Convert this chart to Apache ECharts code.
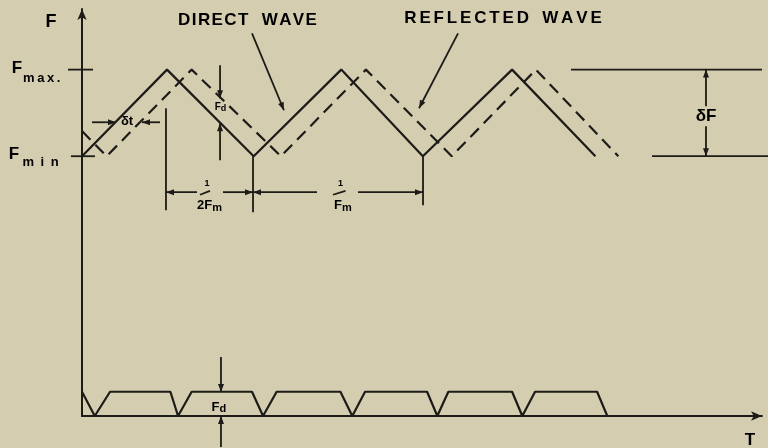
<!DOCTYPE html>
<html><head><meta charset="utf-8">
<script src="https://cdn.jsdelivr.net/npm/echarts@6/dist/echarts.min.js"></script>
<style>html,body{margin:0;padding:0;background:#d4cdb0}#c{width:768px;height:448px}</style>
</head><body><div id="c"></div>
<script>
// Direct (transmitted) wave: time vertices (half-periods) and frequency levels
const directT = [0, 1.0, 2.02, 3.05, 4.01, 5.06, 6.04];
const directF = [3, 4, 3, 4, 3, 4, 3];
// Reflected wave (delayed by δt)
const reflectedT = [0, 0.29, 1.29, 2.34, 3.34, 4.35, 5.34, 6.31];
const reflectedF = [3.29, 3, 4, 3, 4, 3, 4, 3];
// Beat frequency Fd versus time
const beatT = [0, 0.15, 0.33, 1.04, 1.13, 1.29, 2.0, 2.13, 2.29, 3.04, 3.18, 3.33, 4.06, 4.18, 4.31, 5.06, 5.18, 5.33, 6.06, 6.18];
const beatF = [0.28, 0, 0.28, 0.28, 0, 0.28, 0.28, 0, 0.28, 0.28, 0, 0.28, 0.28, 0, 0.28, 0.28, 0, 0.28, 0.28, 0];
// Frequency levels
const F_MIN = 3, F_MAX = 4;

const INK = '#1d1b17';
const zip = (a, b) => a.map((v, i) => [v, b[i]]);
const sp = (s, c) => s.split('').join(c);

// annotation segments in data coordinates: x1,y1,x2,y2,arrowAtEnd
const segs = [
  [2.0, 4.419, 2.376, 3.531, true],
  [4.424, 4.419, 3.965, 3.554, true],
  [-0.165, F_MAX, 0.13, F_MAX, false],
  [-0.13, F_MIN, 0.153, F_MIN, false],
  [5.753, F_MAX, 8.0, F_MAX, false],
  [6.706, F_MIN, 8.07, F_MIN, false],
  [7.341, 3.577, 7.341, F_MAX, true],
  [7.341, 3.346, 7.341, F_MIN, true],
  [1.624, 4.05, 1.624, 3.669, true],
  [1.624, 2.954, 1.624, 3.381, true],
  [0.118, 3.392, 0.40, 3.392, true],
  [0.918, 3.392, 0.706, 3.392, true],
  [0.988, 3.554, 0.988, 2.377, false],
  [2.012, F_MIN, 2.012, 2.354, false],
  [4.012, F_MIN, 4.012, 2.435, false],
  [1.353, 2.585, 0.988, 2.585, true],
  [1.659, 2.585, 2.012, 2.585, true],
  [2.765, 2.585, 2.012, 2.585, true],
  [3.247, 2.585, 4.012, 2.585, true],
  [1.388, 2.555, 1.506, 2.60, false],
  [2.953, 2.555, 3.10, 2.60, false],
  [1.635, 0.681, 1.635, 0.277, true],
  [1.635, -0.358, 1.635, 0.0, true]
];

const FONT = 'Liberation Sans';
const HS = '\u200A', TS = '\u2009', ES = '\u2002';
// text annotations: text (rich), data position, align
const texts = [
  {t: '{t|F}', at: [-0.365, 4.546], align: 'center'},
  {t: '{b|F}', at: [-0.765, 4.02], align: 'center'},
  {t: '{s|' + sp('max.', TS) + '}', at: [-0.694, 3.93], align: 'left'},
  {t: '{b|F}', at: [-0.80, 3.02], align: 'center'},
  {t: '{s|' + sp('min', ES) + '}', at: [-0.70, 2.96], align: 'left'},
  {t: '{c|' + sp('DIRECT', HS) + ' ' + ES + sp('WAVE', HS) + '}', at: [1.947, 4.569], align: 'center'},
  {t: '{c|' + sp('REFLECTED', HS + HS) + ' ' + ES + sp('WAVE', HS + HS) + '}', at: [4.953, 4.592], align: 'center'},
  {t: '{u|F}{v|d}', at: [1.63, 3.565], align: 'center'},
  {t: '{m|F}{d|d}', at: [1.61, 0.104], align: 'center'},
  {t: '{m|δt}', at: [0.53, 3.40], align: 'center'},
  {t: '{b|δF}', at: [7.341, 3.46], align: 'center'},
  {t: '{f|1}', at: [1.47, 2.68], align: 'center'},
  {t: '{m|2F}{d|m}', at: [1.5, 2.43], align: 'center'},
  {t: '{f|1}', at: [3.04, 2.68], align: 'center'},
  {t: '{m|F}{d|m}', at: [3.07, 2.43], align: 'center'},
  {t: '{b|T}', at: [7.859, -0.277], align: 'center'}
];
const base = {fontFamily: FONT, fontWeight: 'bold', color: INK};
const rich = {
  t: Object.assign({fontSize: 18}, base),
  b: Object.assign({fontSize: 17}, base),
  s: Object.assign({fontSize: 13, padding: [5, 0, 0, 0]}, base),
  c: Object.assign({fontSize: 17}, base),
  m: Object.assign({fontSize: 13}, base),
  d: Object.assign({fontSize: 11, padding: [4, 0, 0, 0]}, base),
  u: Object.assign({fontSize: 10}, base),
  v: Object.assign({fontSize: 9, padding: [2, 0, 0, 0]}, base),
  f: Object.assign({fontSize: 9}, base)
};

const chart = echarts.init(document.getElementById('c'), null, {renderer: 'canvas'});
const axisLine = {show: true, symbol: ['none', 'arrow'], symbolSize: [7, 11], lineStyle: {color: INK, width: 2}};
chart.setOption({
  animation: false,
  backgroundColor: '#d4cdb0',
  grid: {left: 82, right: 6, top: 9, bottom: 32},
  xAxis: {type: 'value', min: 0, max: 8, axisLine: axisLine, axisTick: {show: false}, axisLabel: {show: false}, splitLine: {show: false}},
  yAxis: {type: 'value', min: 0, max: 4.7, axisLine: axisLine, axisTick: {show: false}, axisLabel: {show: false}, splitLine: {show: false}},
  series: [
    {type: 'line', name: 'Direct wave', data: zip(directT, directF), symbol: 'none', clip: false,
     lineStyle: {color: INK, width: 2.2}},
    {type: 'line', name: 'Reflected wave', data: zip(reflectedT, reflectedF), symbol: 'none', clip: false,
     lineStyle: {color: INK, width: 2.2, type: [12, 7]}},
    {type: 'line', name: 'Beat', data: zip(beatT, beatF), symbol: 'none', clip: false,
     lineStyle: {color: INK, width: 2.2}}
  ]
});
const px = p => chart.convertToPixel({gridIndex: 0}, p);
const graphic = [];
segs.forEach(s => {
  const a = px([s[0], s[1]]), b = px([s[2], s[3]]);
  graphic.push({type: 'line', silent: true, shape: {x1: a[0], y1: a[1], x2: b[0], y2: b[1]},
    style: {stroke: INK, lineWidth: 1.8}});
  if (s[4]) {
    const dx = b[0] - a[0], dy = b[1] - a[1], L = Math.hypot(dx, dy);
    const ux = dx / L, uy = dy / L, nx = -uy, ny = ux, H = 8, W = 3;
    graphic.push({type: 'polygon', silent: true,
      shape: {points: [[b[0], b[1]], [b[0] - ux * H + nx * W, b[1] - uy * H + ny * W], [b[0] - ux * H - nx * W, b[1] - uy * H - ny * W]]},
      style: {fill: INK}});
  }
});
texts.forEach(o => {
  const p = px(o.at);
  graphic.push({type: 'text', x: p[0], y: p[1], silent: true,
    style: {text: o.t, rich: rich, align: o.align, verticalAlign: 'middle'}});
});
chart.setOption({graphic: graphic});
</script></body></html>
